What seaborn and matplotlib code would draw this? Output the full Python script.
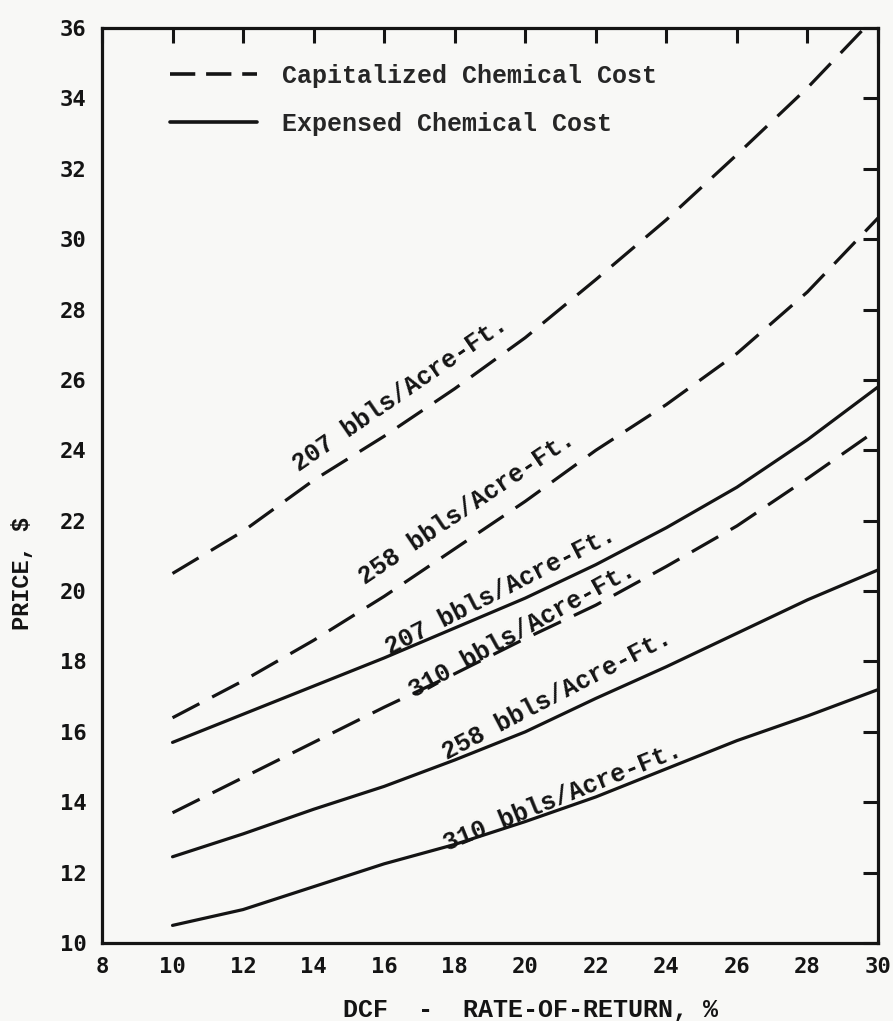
import matplotlib
matplotlib.use("Agg")
import matplotlib.pyplot as plt
import seaborn as sns
import pandas as pd
from matplotlib.lines import Line2D

# ---- data ----
x_ror = [10, 12, 14, 16, 18, 20, 22, 24, 26, 28, 30]

cap_207 = [20.5, 21.7, 23.15, 24.4, 25.75, 27.2, 28.85, 30.55, 32.4, 34.3, 36.4]
cap_258 = [16.4, 17.45, 18.6, 19.85, 21.2, 22.55, 24.0, 25.3, 26.75, 28.5, 30.6]
cap_310 = [13.7, 14.7, 15.7, 16.7, 17.65, 18.65, 19.6, 20.7, 21.85, 23.2, 24.6]
exp_207 = [15.7, 16.5, 17.3, 18.1, 18.95, 19.8, 20.75, 21.8, 22.95, 24.3, 25.8]
exp_258 = [12.45, 13.1, 13.8, 14.45, 15.2, 16.0, 16.95, 17.85, 18.8, 19.75, 20.6]
exp_310 = [10.5, 10.95, 11.6, 12.25, 12.8, 13.45, 14.15, 14.95, 15.75, 16.45, 17.2]

series_names = ["cap_207", "cap_258", "cap_310", "exp_207", "exp_258", "exp_310"]
series_vals = [cap_207, cap_258, cap_310, exp_207, exp_258, exp_310]
series_kind = ["Capitalized", "Capitalized", "Capitalized", "Expensed", "Expensed", "Expensed"]

curve_labels = ["207 bbls/Acre-Ft.", "258 bbls/Acre-Ft.", "310 bbls/Acre-Ft.",
                "207 bbls/Acre-Ft.", "258 bbls/Acre-Ft.", "310 bbls/Acre-Ft."]
label_x = [16.45, 18.35, 19.9, 19.3, 20.9, 21.05]
label_y = [25.6, 22.35, 18.9, 20.0, 17.05, 14.15]
label_rot = [34.5, 34.0, 29.0, 27.0, 27.5, 22.0]

legend_labels = ["Capitalized Chemical Cost", "Expensed Chemical Cost"]
x_ticks = [8, 10, 12, 14, 16, 18, 20, 22, 24, 26, 28, 30]
y_ticks = [10, 12, 14, 16, 18, 20, 22, 24, 26, 28, 30, 32, 34, 36]

# ---- build table ----
rows = []
for name, vals, kind in zip(series_names, series_vals, series_kind):
    for xv, yv in zip(x_ror, vals):
        rows.append({"series": name, "kind": kind, "ror": xv, "price": yv})
df = pd.DataFrame(rows)

sns.set_theme(style="white")
bg = "#f8f8f6"
ink = "#141414"
mono = ["Liberation Mono", "DejaVu Sans Mono"]
sansmono = ["DejaVu Sans Mono"]
plt.rcParams["font.family"] = mono

fig = plt.figure(figsize=(8.93, 10.21), dpi=100, facecolor=bg)
ax = fig.add_axes([0.1142, 0.0764, 0.869, 0.8962])
ax.set_facecolor(bg)

dash = (0, (9.5, 4.5))
lw = 2.3
for name, kind in zip(series_names, series_kind):
    sub = df[df["series"] == name]
    sns.lineplot(data=sub, x="ror", y="price", ax=ax, color=ink, lw=lw,
                 linestyle=dash if kind == "Capitalized" else "-",
                 estimator=None, sort=True, legend=False)

for txt, lx, ly, rot in zip(curve_labels, label_x, label_y, label_rot):
    ax.text(lx, ly, txt, rotation=rot, rotation_mode="anchor", ha="center",
            va="center", fontsize=18, fontweight="bold", color=ink, family=mono)

ax.set_xlim(8, 30)
ax.set_ylim(10, 36)
ax.set_xticks(x_ticks)
ax.set_yticks(y_ticks)
ax.set_xticklabels([str(t) for t in x_ticks], family=sansmono, fontsize=16, fontweight="bold")
ax.set_yticklabels([str(t) for t in y_ticks], family=sansmono, fontsize=16, fontweight="bold")
ax.tick_params(axis="both", which="both", direction="in", length=11, width=2.2,
               top=True, right=True, color=ink, labelcolor=ink)
ax.tick_params(axis="y", pad=11)
ax.tick_params(axis="x", pad=10)
for sp in ax.spines.values():
    sp.set_linewidth(2.3)
    sp.set_color(ink)
    sp.set_visible(True)

ax.set_xlabel("DCF  -  RATE-OF-RETURN, %", fontsize=18, family=mono, fontweight="bold",
              color=ink, ha="center", va="center")
ax.xaxis.set_label_coords(0.552, -0.0735)
ax.set_ylabel("PRICE, $", fontsize=17, family=mono, fontweight="bold", color=ink,
              ha="center", va="center")
ax.yaxis.set_label_coords(-0.103, 0.404)

handles = [Line2D([], [], color=ink, lw=lw + 0.3, linestyle=(0, (7.0, 3.0))),
           Line2D([], [], color=ink, lw=lw + 0.3, linestyle="-")]
ax.legend(handles, legend_labels, loc="upper left", bbox_to_anchor=(0.081, 0.966),
          frameon=False, handlelength=3.5, handletextpad=1.0, labelspacing=0.94,
          borderaxespad=0.0, borderpad=0.2,
          prop={"family": mono, "size": 18, "weight": "bold"})

fig.savefig("out.png", dpi=100, facecolor=bg)
